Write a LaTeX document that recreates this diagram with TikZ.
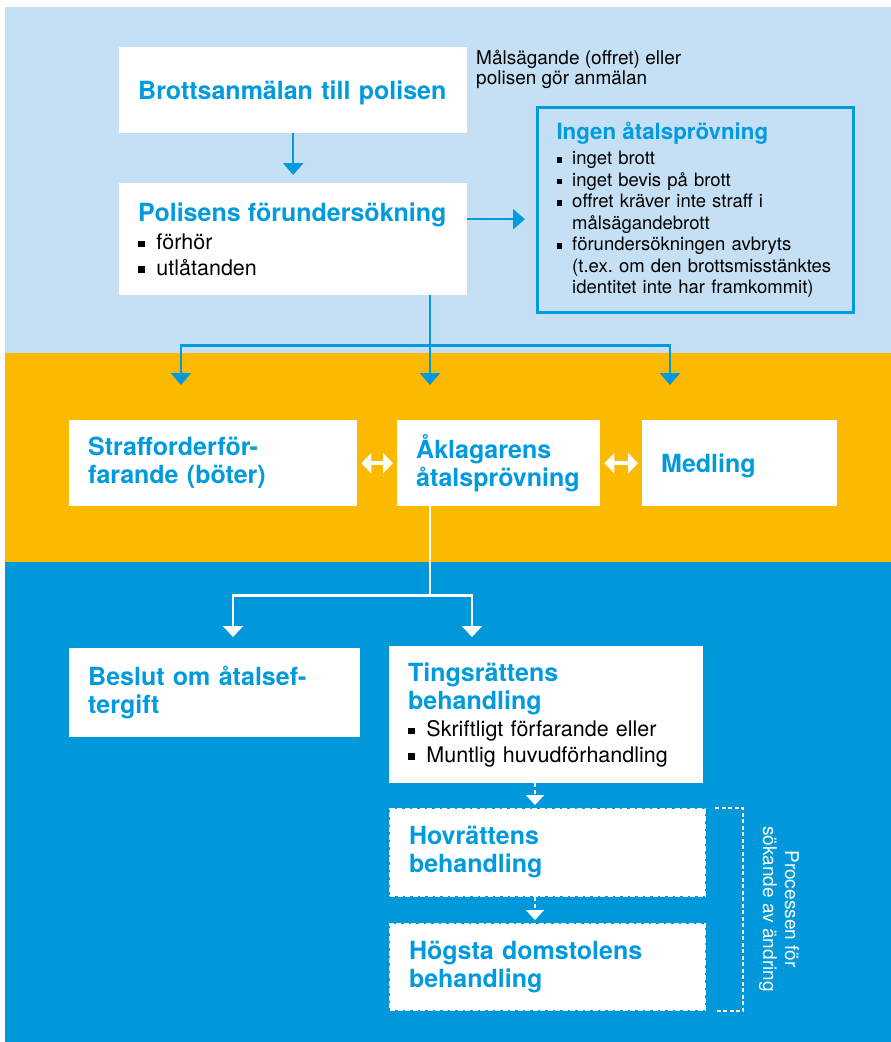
\documentclass[tikz,border=0pt]{standalone}
\usepackage{fontspec}
\setmainfont{TeX Gyre Heros}
\usetikzlibrary{arrows.meta,calc}

\definecolor{lightbg}{HTML}{C5E0F5}
\definecolor{orangebg}{HTML}{FBB900}
\definecolor{bluebg}{HTML}{0098DA}
\definecolor{textblue}{HTML}{009ADE}

\newcommand{\ttl}{\bfseries\color{textblue}\fontsize{25}{28}\selectfont}
\newcommand{\lst}{\fontsize{21.5}{25.5}\selectfont}
\newcommand{\bul}{\makebox[0.85em][l]{\rule[0.12em]{0.3em}{0.3em}}}
\frenchspacing

\begin{document}
\begin{tikzpicture}[x=1pt,y=-1pt]
    \tikzstyle{box}  = [anchor=north west, fill=white, inner xsep=19pt, inner ysep=0pt, align=left, font=\ttl]
    \tikzstyle{dbox} = [box, draw=white, line width=2pt, dash pattern=on 5pt off 2.5pt]
    \tikzstyle{bline} = [draw=textblue, line width=2.2pt]
    \tikzstyle{arr}  = [bline, -{Triangle[width=20pt,length=12pt]}]
    \tikzstyle{wline} = [draw=white, line width=2.5pt]
    \tikzstyle{warr} = [wline, -{Triangle[width=20pt,length=11pt]}]
    \tikzstyle{dbl}  = [draw=white, line width=4pt, {Triangle[width=20pt,length=10pt]}-{Triangle[width=20pt,length=10pt]}, shorten <=4pt, shorten >=4pt]
    \tikzstyle{dline} = [draw=white, line width=2pt, dash pattern=on 4pt off 2.5pt]
    \tikzstyle{darr} = [dline, -{Triangle[width=18pt,length=10pt]}, shorten >=3pt]

    \useasboundingbox (0,0) rectangle (891,1042);
    \fill[lightbg]  (5,7)   rectangle (891,353);
    \fill[orangebg] (5,353) rectangle (891,562);
    \fill[bluebg]   (5,562) rectangle (891,1042);

    % police stage
    \node[box, text width=310pt, minimum height=86pt, text depth=0pt] (brott) at (119,47) {Brottsanmälan till polisen};
    \node[anchor=north west, inner sep=0pt, align=left, font=\fontsize{19}{20.5}\selectfont] (note) at (476,50) {Målsägande (offret) eller\\polisen gör anmälan};
    \node[box, text width=310pt, minimum height=112pt, font=\lst] (pol) at (119,183)
      {{\ttl Polisens förundersökning\par}\vspace{3pt}\bul förhör\\\bul utlåtanden};
    \node[box, fill=none, draw=textblue, line width=3pt, text width=278pt, minimum height=205pt,
      font=\fontsize{18.5}{21.5}\selectfont] (ing) at (536,106)
      {{\bfseries\color{textblue}\fontsize{22.3}{26}\selectfont Ingen åtalsprövning\par}\vspace{4pt}%
       \mbox{\bul inget brott}\\\mbox{\bul inget bevis på brott}\\\mbox{\bul offret kräver inte straff i}\\%
       \mbox{\hspace*{0.85em}målsägandebrott}\\\mbox{\bul förundersökningen avbryts}\\%
       \mbox{\hspace*{0.85em}(t.ex. om den brottsmisstänktes}\\\mbox{\hspace*{0.85em}identitet inte har framkommit)}};

    % prosecutor stage
    \node[box, text width=250pt, minimum height=86pt] (straf) at (69,420) {Strafforderför-\\farande (böter)};
    \node[box, text width=165pt, minimum height=86pt] (akl) at (397,420) {Åklagarens\\åtalsprövning};
    \node[box, text width=157pt, minimum height=86pt, text depth=0pt] (med) at (642,420) {Medling};

    % court stage
    \node[box, text width=253pt, minimum height=89pt] (besl) at (69,648) {Beslut om åtalsef-\\tergift};
    \node[box, text width=276pt, minimum height=137pt, font=\lst] (ting) at (389,646)
      {{\ttl Tingsrättens\\behandling\par}\vspace{2pt}\bul Skriftligt förfarande eller\\\bul Muntlig huvudförhandling};
    \node[dbox, text width=277pt, minimum height=87pt] (hov) at (389,808) {Hovrättens\\behandling};
    \node[dbox, text width=277pt, minimum height=86pt] (hog) at (389,923) {Högsta domstolens\\behandling};
    \node[rotate=-90, text=white, align=center, font=\fontsize{19}{22}\selectfont] (proc) at (779,909) {Processen för\\sökande av ändring};

    \draw[arr, shorten >=8pt] (brott) -- (pol);
    \coordinate (pe) at ([yshift=20pt]pol.east);
    \draw[arr, shorten >=11pt] (pe) -- (pe -| ing.west);

    \coordinate (pb) at ([xshift=311pt]pol.south west);
    \draw[bline] (pb) -- ++(0,50) coordinate (pj);
    \draw[arr, shorten >=35pt] (pj) -| ([xshift=112pt]straf.north west);
    \draw[arr, shorten >=35pt] (pb) -- ([xshift=33pt]akl.north west);
    \draw[arr, shorten >=35pt] (pj) -| ([xshift=28pt]med.north west);

    \draw[dbl] (straf) -- (akl);
    \draw[dbl] (akl) -- (med);

    \coordinate (ab) at ([xshift=33pt]akl.south west);
    \draw[wline] (ab) -- ++(0,89) coordinate (aj);
    \draw[warr, shorten >=11pt] (aj) -| ([xshift=164pt]besl.north west);
    \draw[warr, shorten >=9pt] (aj) -| ([xshift=83pt]ting.north west);

    \draw[darr] ([xshift=146pt]ting.south west) -- ([xshift=146pt]hov.north west);
    \draw[darr] ([xshift=146pt]hov.south west) -- ([xshift=146pt]hog.north west);
    \draw[dline] ([xshift=9pt]hov.north east) -| ([xshift=37pt]hog.south east) -- ([xshift=11pt]hog.south east);
  \end{tikzpicture}
\end{document}
